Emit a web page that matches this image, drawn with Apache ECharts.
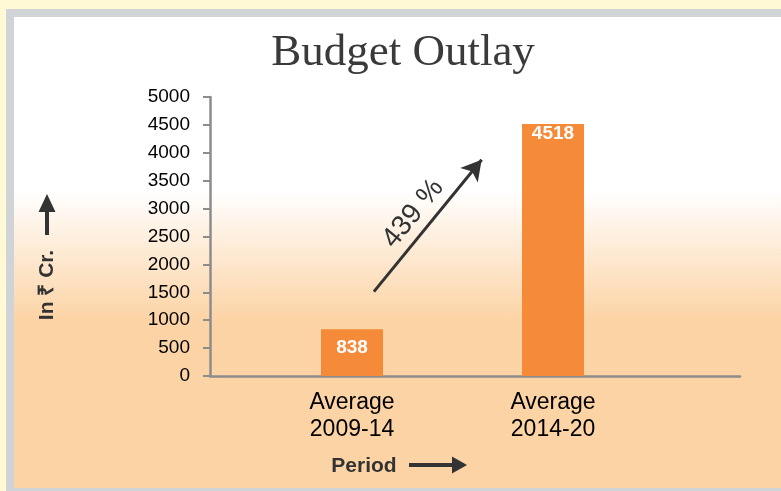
<!DOCTYPE html>
<html>
<head>
<meta charset="utf-8">
<script src="https://cdn.jsdelivr.net/npm/echarts@6/dist/echarts.min.js"></script>
<style>
  html, body { margin: 0; padding: 0; width: 781px; height: 491px; overflow: hidden; background: #fff9d6; }
  #frame { position: absolute; left: 6px; top: 9px; width: 775px; height: 482px; background: #d0d4d7; }
  #panel { position: absolute; left: 14px; top: 17px; width: 767px; height: 471px;
           background: linear-gradient(to bottom, #ffffff 0px, #ffffff 173px, #fcd3a4 305px, #fcd3a4 100%); }
  #chart { position: absolute; left: 0; top: 0; width: 781px; height: 491px; }
</style>
</head>
<body>
<div id="frame"></div>
<div id="panel"></div>
<div id="chart"></div>
<script>
// ---- data ----
var categories = ['Average\n2009-14', 'Average\n2014-20'];
var categoryPositions = [1, 2];
var outlayValues = [838, 4518];
var yTicks = { min: 0, max: 5000, interval: 500 };
var growthLabel = '439 %';
var growthArrowFrom = [1.109, 1512];
var growthArrowTo = [1.645, 3875];
var labelDistances = [9, 0];

var barData = outlayValues.map(function (v, i) {
  return { value: [categoryPositions[i], v], label: { distance: labelDistances[i] } };
});

var chart = echarts.init(document.getElementById('chart'), null, { renderer: 'canvas' });
chart.setOption({
  backgroundColor: 'transparent',
  animation: false,
  title: {
    text: 'Budget Outlay',
    left: 398,
    top: 26,
    textAlign: 'center',
    textStyle: { fontFamily: 'Liberation Serif', fontSize: 45, fontWeight: 'normal', color: '#3a3a3a' }
  },
  grid: { left: 210, right: 41, top: 97, bottom: 115 },
  xAxis: {
    type: 'value',
    min: 0.2935,
    max: 2.9303,
    splitLine: { show: false },
    axisTick: { show: false },
    axisLine: { show: true, lineStyle: { color: '#8c8c8c', width: 2.5 } },
    axisLabel: {
      customValues: categoryPositions,
      formatter: function (v) { return categories[Math.round(v) - 1] || ''; },
      fontFamily: 'Liberation Sans, Arial',
      fontSize: 23,
      lineHeight: 27,
      color: '#000',
      margin: 13
    }
  },
  yAxis: {
    type: 'value',
    min: yTicks.min,
    max: yTicks.max,
    interval: yTicks.interval,
    splitLine: { show: false },
    axisLine: { show: true, lineStyle: { color: '#8c8c8c', width: 2.5 } },
    axisTick: { show: true, length: 7, lineStyle: { color: '#8c8c8c', width: 2 } },
    axisLabel: {
      formatter: function (v) { return String(v); },
      fontFamily: 'Liberation Sans, Arial', fontSize: 19, color: '#000', margin: 20
    }
  },
  series: [{
    type: 'bar',
    barWidth: 62,
    data: barData,
    itemStyle: { color: '#f58a38' },
    label: {
      show: true,
      position: 'insideTop',
      color: '#fff',
      fontFamily: 'Liberation Sans, Arial',
      fontWeight: 'bold',
      fontSize: 19,
      formatter: function (p) { return p.value[1]; }
    },
    markLine: {
      silent: true,
      symbol: ['none', 'arrow'],
      symbolSize: [17, 20],
      lineStyle: { color: '#333', width: 3, type: 'solid' },
      label: {
        show: true,
        position: 'middle',
        formatter: growthLabel,
        color: '#333',
        fontFamily: 'Liberation Sans, Arial',
        fontSize: 28,
        distance: 5
      },
      data: [[{ coord: growthArrowFrom }, { coord: growthArrowTo }]]
    }
  }],
  graphic: [
    {
      type: 'text', x: 47, y: 285, rotation: Math.PI / 2,
      style: { text: 'In ₹ Cr.', fill: '#333', font: 'bold 21px "Liberation Sans", Arial', textAlign: 'center', textVerticalAlign: 'middle' }
    },
    { type: 'line', shape: { x1: 47, y1: 235, x2: 47, y2: 208 }, style: { stroke: '#333', lineWidth: 4 } },
    { type: 'polygon', shape: { points: [[47, 194], [38.5, 212], [55.5, 212]] }, style: { fill: '#333' } },
    {
      type: 'text', x: 364, y: 466,
      style: { text: 'Period', fill: '#333', font: 'bold 21px "Liberation Sans", Arial', textAlign: 'center', textVerticalAlign: 'middle' }
    },
    { type: 'line', shape: { x1: 409, y1: 465, x2: 455, y2: 465 }, style: { stroke: '#333', lineWidth: 4 } },
    { type: 'polygon', shape: { points: [[467, 465], [452, 456.5], [452, 473.5]] }, style: { fill: '#333' } }
  ]
});
</script>
</body>
</html>
